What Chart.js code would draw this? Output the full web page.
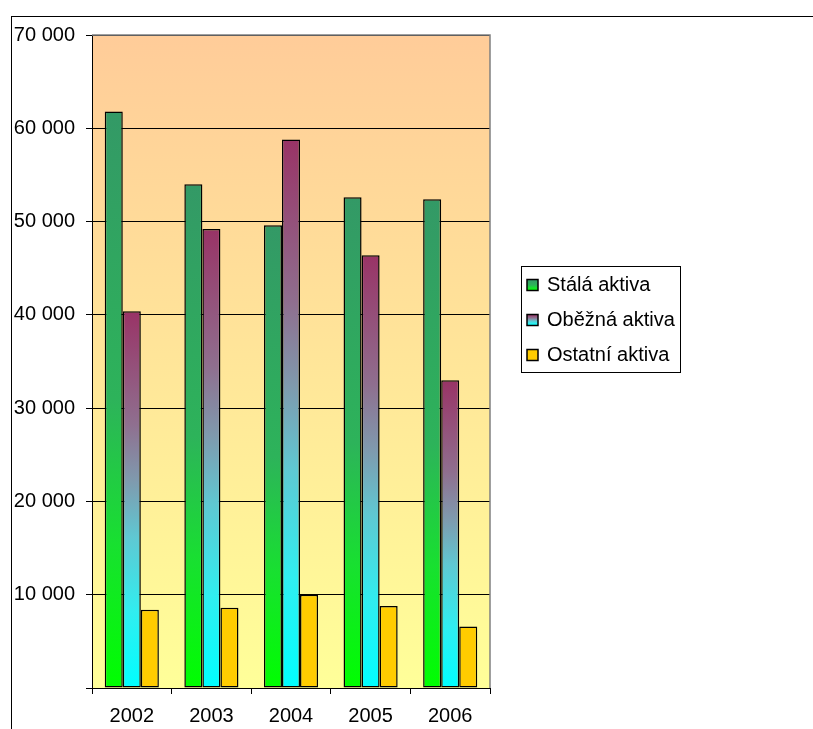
<!DOCTYPE html>
<html lang="cs">
<head>
<meta charset="utf-8">
<title>Aktiva 2002–2006</title>
<script src="https://cdn.jsdelivr.net/npm/chart.js@4.4.1/dist/chart.umd.min.js"></script>
<style>
  html, body { margin: 0; padding: 0; background: #fff; }
  #wrap { position: relative; width: 813px; height: 729px; }
</style>
</head>
<body>
<div id="wrap"><canvas id="aktivaChart" width="813" height="729"></canvas></div>
<script>
  // Aktiva podle roku (tis. Kč)
  const years = ['2002', '2003', '2004', '2005', '2006'];
  const staleAktiva = [61800, 54000, 49600, 52600, 52400];
  const obezneAktiva = [40400, 49200, 58800, 46400, 33000];
  const ostatniAktiva = [8400, 8600, 10000, 8800, 6600];
  const yMin = 0;
  const yMax = 70000;
  const yStep = 10000;

  const FONT = '"Liberation Sans", Arial, sans-serif';

  // colour stops for the vertical fills (top -> base)
  const greenStops = [[0, '#339966'], [0.5, '#2db35a'], [0.75, '#18e030'], [1, '#00ff00']];
  const purpleStops = [[0, '#993366'], [0.3, '#8f6f8f'], [0.45, '#7f9aae'], [0.6, '#5fc8d2'], [0.8, '#30eef0'], [1, '#00ffff']];
  const yellowStops = [[0, '#ffcc00'], [1, '#ffcc00']];

  function formatThousands(v) {
    return String(v).replace(/\B(?=(\d{3})+(?!\d))/g, ' ');
  }

  function barGradient(stops) {
    return function (context) {
      const chart = context.chart;
      if (!chart.chartArea || context.type !== 'data') return stops[0][1];
      const y = chart.scales.y;
      const top = y.getPixelForValue(context.raw);
      const base = y.getPixelForValue(0);
      const g = chart.ctx.createLinearGradient(0, top, 0, base);
      stops.forEach(([o, c]) => g.addColorStop(o, c));
      return g;
    };
  }

  // plot background, plot frame and the outer chart border
  const plotFrame = {
    id: 'plotFrame',
    beforeDraw(chart) {
      const { ctx, chartArea: a } = chart;
      ctx.save();
      ctx.strokeStyle = '#000';
      ctx.lineWidth = 1;
      ctx.strokeRect(11.5, 16.5, 1200, 1200);
      const g = ctx.createLinearGradient(0, a.top, 0, a.bottom);
      g.addColorStop(0, '#ffcc99');
      g.addColorStop(1, '#ffff99');
      ctx.fillStyle = g;
      ctx.fillRect(a.left, a.top, a.right - a.left, a.bottom - a.top);
      ctx.restore();
    },
    beforeDatasetsDraw(chart) {
      const { ctx, chartArea: a } = chart;
      ctx.save();
      ctx.strokeStyle = '#808080';
      ctx.lineWidth = 1.5;
      ctx.beginPath();
      ctx.moveTo(a.left, a.top);
      ctx.lineTo(a.right, a.top);
      ctx.lineTo(a.right, a.bottom);
      ctx.stroke();
      ctx.restore();
    }
  };

  // boxed legend to the right of the plot
  const boxLegend = {
    id: 'boxLegend',
    afterDraw(chart, args, opts) {
      const ctx = chart.ctx;
      ctx.save();
      ctx.fillStyle = '#fff';
      ctx.fillRect(opts.x, opts.y, opts.w, opts.h);
      ctx.strokeStyle = '#000';
      ctx.lineWidth = 1;
      ctx.strokeRect(opts.x + 0.5, opts.y + 0.5, opts.w, opts.h);
      ctx.font = `${opts.fontSize}px ${FONT}`;
      ctx.textBaseline = 'middle';
      ctx.textAlign = 'left';
      chart.data.datasets.forEach((ds, i) => {
        const cy = opts.y + opts.firstRow + i * opts.rowGap;
        const mx = opts.x + opts.markerLeft;
        const ms = opts.markerSize;
        const g = ctx.createLinearGradient(0, cy - ms / 2, 0, cy + ms / 2);
        ds.legendStops.forEach(([o, c]) => g.addColorStop(o, c));
        ctx.fillStyle = g;
        ctx.fillRect(mx, cy - ms / 2, ms, ms);
        ctx.strokeStyle = '#000';
        ctx.lineWidth = 1.5;
        ctx.strokeRect(mx, cy - ms / 2, ms, ms);
        ctx.fillStyle = '#000';
        ctx.fillText(ds.label, opts.x + opts.textLeft, cy);
      });
      ctx.restore();
    }
  };

  const barStyle = {
    borderColor: '#000',
    borderWidth: 1.5,
    borderSkipped: false,
    categoryPercentage: 0.68,
    barPercentage: 1.0
  };

  new Chart(document.getElementById('aktivaChart'), {
    type: 'bar',
    plugins: [plotFrame, boxLegend],
    data: {
      labels: years,
      datasets: [
        Object.assign({ label: 'Stálá aktiva', data: staleAktiva, backgroundColor: barGradient(greenStops), legendStops: greenStops }, barStyle),
        Object.assign({ label: 'Oběžná aktiva', data: obezneAktiva, backgroundColor: barGradient(purpleStops), legendStops: purpleStops }, barStyle),
        Object.assign({ label: 'Ostatní aktiva', data: ostatniAktiva, backgroundColor: barGradient(yellowStops), legendStops: yellowStops }, barStyle)
      ]
    },
    options: {
      responsive: false,
      animation: false,
      devicePixelRatio: 1,
      layout: { padding: { left: 0, top: 35, right: 323, bottom: 0 } },
      plugins: {
        legend: { display: false },
        tooltip: { enabled: false },
        boxLegend: {
          x: 521, y: 266, w: 159, h: 106,
          firstRow: 19, rowGap: 35,
          markerLeft: 6, markerSize: 11, textLeft: 26,
          fontSize: 20
        }
      },
      scales: {
        x: {
          afterFit(scale) { scale.height = 41; },
          grid: { offset: true, drawOnChartArea: false, color: '#000', tickLength: 6, lineWidth: 1 },
          border: { color: '#000', width: 1 },
          ticks: { color: '#000', padding: 10, font: { family: FONT, size: 20 } }
        },
        y: {
          min: yMin,
          max: yMax,
          afterFit(scale) { scale.width = 92; },
          grid: { color: '#000', tickLength: 6, lineWidth: 1 },
          border: { color: '#000', width: 1 },
          ticks: {
            stepSize: yStep,
            color: '#000',
            padding: 11,
            font: { family: FONT, size: 20 },
            // the zero tick keeps its mark but has no label
            callback: (v) => (v === 0 ? '' : formatThousands(v))
          }
        }
      }
    }
  });
</script>
</body>
</html>
